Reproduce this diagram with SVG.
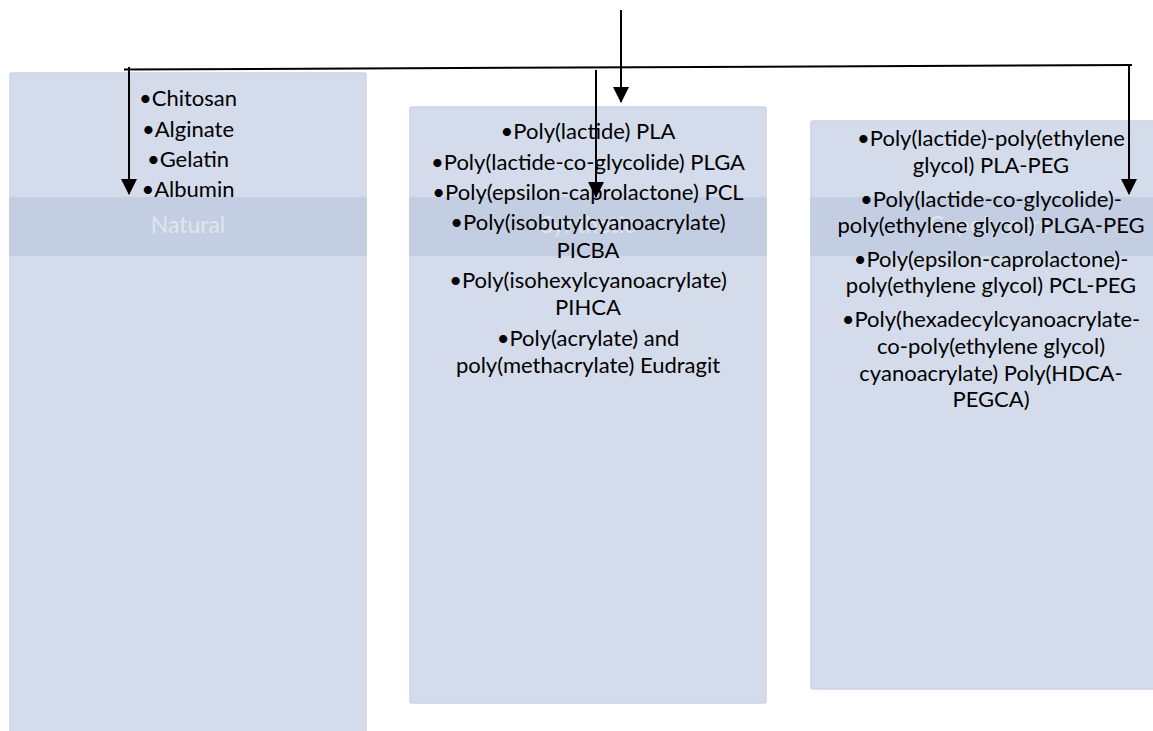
<svg xmlns="http://www.w3.org/2000/svg" width="1153" height="731" viewBox="0 0 1153 731">
<style>
.box{fill:#d4dbea;stroke:#ccd4e6;stroke-width:1.5}
.band{fill:#c3cee2;opacity:0.95}
.bandtxt{font-family:Lato,"Liberation Sans",sans-serif;font-size:23px;fill:#dfe5ef;text-anchor:middle}
.t{font-family:Lato,"Liberation Sans",sans-serif;font-size:22px;fill:#000;text-anchor:middle}
.ln{stroke:#000;stroke-width:2;fill:none}
</style>
<defs>
<marker id="ah" markerWidth="16" markerHeight="16" viewBox="0 0 16 16" refX="15" refY="8" orient="auto" markerUnits="userSpaceOnUse">
<path d="M0,0 L16,8 L0,16 Z" fill="#000"/>
</marker>
</defs>
<rect width="1153" height="731" fill="#fff"/>
<g id="natural">
<rect class="box" x="10" y="73" width="356" height="680" rx="2"/>
<rect class="band" x="9" y="197" width="358" height="59" rx="2"/>
<text class="bandtxt" x="188" y="233">Natural</text>
<text class="t" x="188" y="106">•Chitosan</text>
<text class="t" x="188" y="137">•Alginate</text>
<text class="t" x="188" y="167">•Gelatin</text>
<text class="t" x="188" y="197">•Albumin</text>
</g>
<g id="synthetic">
<rect class="box" x="410" y="107" width="356" height="596" rx="2"/>
<rect class="band" x="409" y="197" width="358" height="59" rx="2"/>
<text class="bandtxt" x="588" y="233">Synthetic</text>
<text class="t" x="588" y="139">•Poly(lactide) PLA</text>
<text class="t" x="588" y="170">•Poly(lactide-co-glycolide) PLGA</text>
<text class="t" x="588" y="200">•Poly(epsilon-caprolactone) PCL</text>
<text class="t" x="588" y="230">•Poly(isobutylcyanoacrylate)</text>
<text class="t" x="588" y="258">PICBA</text>
<text class="t" x="588" y="288">•Poly(isohexylcyanoacrylate)</text>
<text class="t" x="588" y="315">PIHCA</text>
<text class="t" x="588" y="346">•Poly(acrylate) and</text>
<text class="t" x="588" y="373">poly(methacrylate) Eudragit</text>
</g>
<g id="copolymers">
<rect class="box" x="811" y="121" width="356" height="568" rx="2"/>
<rect class="band" x="810" y="197" width="358" height="59" rx="2"/>
<text class="bandtxt" x="989" y="233">Copolymers</text>
<text class="t" x="991" y="146">•Poly(lactide)-poly(ethylene</text>
<text class="t" x="991" y="173">glycol) PLA-PEG</text>
<text class="t" x="991" y="207">•Poly(lactide-co-glycolide)-</text>
<text class="t" x="991" y="233">poly(ethylene glycol) PLGA-PEG</text>
<text class="t" x="991" y="267">•Poly(epsilon-caprolactone)-</text>
<text class="t" x="991" y="293">poly(ethylene glycol) PCL-PEG</text>
<text class="t" x="991" y="327">•Poly(hexadecylcyanoacrylate-</text>
<text class="t" x="991" y="354">co-poly(ethylene glycol)</text>
<text class="t" x="991" y="381">cyanoacrylate) Poly(HDCA-</text>
<text class="t" x="991" y="407">PEGCA)</text>
</g>
<g id="connectors">
<line class="ln" x1="621" y1="10" x2="621" y2="102" marker-end="url(#ah)"/>
<line class="ln" x1="124" y1="69.5" x2="1132" y2="65"/>
<line class="ln" x1="129" y1="67" x2="129" y2="194" marker-end="url(#ah)"/>
<line class="ln" x1="596" y1="70" x2="596" y2="197" marker-end="url(#ah)"/>
<line class="ln" x1="1129" y1="65" x2="1129" y2="194" marker-end="url(#ah)"/>
</g>
</svg>
